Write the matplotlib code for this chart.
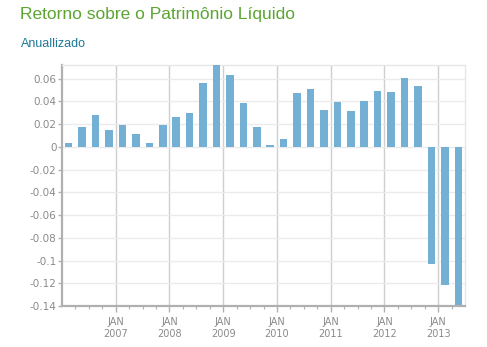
import matplotlib.pyplot as plt
import numpy as np
from matplotlib.ticker import FixedLocator, FuncFormatter

# Quarterly return on equity (annualized), 2006 Q1 .. 2013 Q2
START_YEAR = 2006
ROE = [
    0.0033, 0.0176, 0.0280, 0.0146,
    0.0194, 0.0113, 0.0033, 0.0194,
    0.0266, 0.0299, 0.0564, 0.0725,
    0.0636, 0.0382, 0.0176, 0.0015,
    0.0072, 0.0475, 0.0513, 0.0322,
    0.0394, 0.0313, 0.0403, 0.0493,
    0.0484, 0.0603, 0.0531, -0.1027,
    -0.1218, -0.1395,
]
YEAR_TICKS = [2007, 2008, 2009, 2010, 2011, 2012, 2013]
Y_TICKS = [0.06, 0.04, 0.02, 0, -0.02, -0.04, -0.06, -0.08, -0.1, -0.12, -0.14]

TITLE = "Retorno sobre o Patrimônio Líquido"
SUBTITLE = "Anuallizado"

BAR_COLOR = "#74b0d3"
GRID_H = "#ebebeb"
GRID_V = "#cfcfcf"
AXIS_COLOR = "#b0b0b0"
TEXT_GREY = "#8a8a8a"

plt.rcParams["font.family"] = ["DejaVu Sans"]

x = START_YEAR + (np.arange(len(ROE)) + 0.5) / 4.0

fig = plt.figure(figsize=(4.87, 3.47), dpi=100)
ax = fig.add_axes([62 / 487, 1 - 306 / 347, (465 - 62) / 487, (306 - 65) / 347])

ax.bar(x, ROE, width=0.14, color=BAR_COLOR, zorder=3)

ax.set_xlim(2006.0, 2013.5)
ax.set_ylim(-0.14, 0.072)

ax.yaxis.set_major_locator(FixedLocator(Y_TICKS))
ax.yaxis.set_major_formatter(FuncFormatter(lambda v, _: "0" if abs(v) < 1e-9 else f"{v:g}"))
ax.xaxis.set_major_locator(FixedLocator(YEAR_TICKS))
ax.set_xticklabels([f"JAN\n{y}" for y in YEAR_TICKS])
ax.xaxis.set_minor_locator(FixedLocator([START_YEAR + q / 4 for q in range(1, 30)]))

ax.grid(axis="y", color=GRID_H, linewidth=1.0, zorder=0)
ax.grid(axis="x", which="major", color=GRID_V, linewidth=1.0, zorder=1)

for side in ("top", "right"):
    ax.spines[side].set_color("#e6e6e6")
    ax.spines[side].set_linewidth(1.0)
for side in ("left", "bottom"):
    ax.spines[side].set_color(AXIS_COLOR)
    ax.spines[side].set_linewidth(1.6)

ax.tick_params(axis="y", colors=AXIS_COLOR, labelcolor=TEXT_GREY, labelsize=7.5,
               length=3, width=1, pad=1)
ax.tick_params(axis="x", which="major", colors=AXIS_COLOR, labelcolor=TEXT_GREY,
               labelsize=7, length=4, width=1, pad=4)
ax.tick_params(axis="x", which="minor", colors=AXIS_COLOR, length=2.5, width=0.8)

fig.text(20 / 487, 1 - 14 / 347, TITLE, color="#5ca531", fontsize=12.5,
         family="Liberation Sans", va="center", ha="left")
fig.text(21 / 487, 1 - 44 / 347, SUBTITLE, color="#1e7896", fontsize=9,
         family="Liberation Sans", va="center", ha="left")

fig.savefig("out.png", dpi=100)
